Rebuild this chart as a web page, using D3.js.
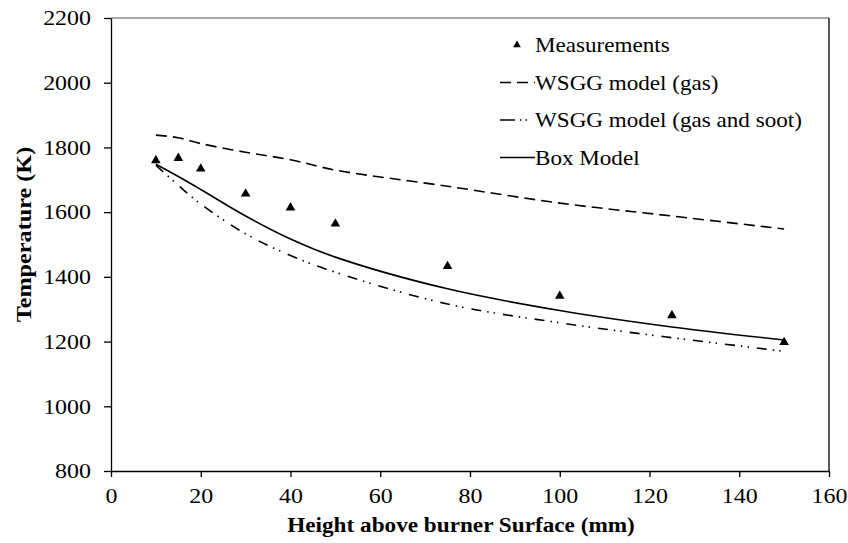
<!DOCTYPE html>
<html lang="en">
<head>
    <meta charset="UTF-8">
    <title>Temperature vs height above burner</title>
    <script src="https://d3js.org/d3.v7.min.js"></script>
    <style>
        body {
            margin: 0;
            background: #fff;
        }
        svg {
            display: block;
        }
        svg text {
            font-family: "Liberation Serif", "DejaVu Serif", serif;
            fill: #000;
        }
        .axis path, .axis line {
            stroke: #000;
            stroke-width: 1.3px;
        }
        .axis text {
            font-size: 21px;
        }
        .series {
            fill: none;
            stroke: #000;
            stroke-width: 1.6px;
        }
    </style>
</head>
<body>
    <svg id="chart" width="848" height="543"></svg>

    <script>
        // Data (height in mm, temperature in K)
        const heights = [10, 15, 20, 30, 40, 50, 75, 100, 125, 150];
        const measured = [1760, 1767, 1734, 1657, 1614, 1564, 1433, 1341, 1281, 1198];
        const wsggGas = [1838, 1830, 1812, 1785, 1762, 1730, 1680, 1628, 1588, 1548];
        const wsggSoot = [1745, 1683, 1625, 1533, 1466, 1414, 1316, 1258, 1212, 1170];
        const boxModel = [1748, 1710, 1670, 1588, 1517, 1461, 1363, 1296, 1245, 1205];

        const xTicks = [0, 20, 40, 60, 80, 100, 120, 140, 160];
        const yTicks = [800, 1000, 1200, 1400, 1600, 1800, 2000, 2200];

        const legendLabels = ["Measurements", "WSGG model (gas)", "WSGG model (gas and soot)", "Box Model"];

        const margin = {top: 18, right: 19, bottom: 72, left: 111};
        const width = 848 - margin.left - margin.right;
        const height = 543 - margin.top - margin.bottom;

        const svg = d3.select("#chart")
            .append("g")
            .attr("transform", `translate(${margin.left},${margin.top})`);

        const x = d3.scaleLinear().domain([0, 160]).range([0, width]);
        const y = d3.scaleLinear().domain([800, 2200]).range([height, 0]);

        // Plot frame (top and right)
        svg.append("line")
            .attr("x1", 0).attr("x2", width)
            .attr("y1", 0).attr("y2", 0)
            .attr("stroke", "#888").attr("stroke-width", 1.3);
        svg.append("line")
            .attr("x1", width).attr("x2", width)
            .attr("y1", 0).attr("y2", height)
            .attr("stroke", "#000").attr("stroke-width", 1.3);

        // Axes
        svg.append("g")
            .attr("class", "axis")
            .attr("transform", `translate(0,${height})`)
            .call(d3.axisBottom(x).tickValues(xTicks).tickFormat(d3.format("d"))
                .tickSize(6).tickPadding(11).tickSizeOuter(0))
            .attr("font-family", null);

        svg.append("g")
            .attr("class", "axis")
            .call(d3.axisLeft(y).tickValues(yTicks).tickFormat(d3.format("d"))
                .tickSize(7).tickPadding(13).tickSizeOuter(0))
            .attr("font-family", null);

        // Series lines
        const line = vals => d3.line()
            .x((d, i) => x(heights[i]))
            .y(d => y(d))
            .curve(d3.curveCatmullRom)(vals);

        svg.append("path")
            .attr("class", "series")
            .attr("d", line(wsggGas))
            .attr("stroke-dasharray", "11,6");

        svg.append("path")
            .attr("class", "series")
            .attr("d", line(wsggSoot))
            .attr("stroke-dasharray", "10,6,1.5,5,1.5,8");

        svg.append("path")
            .attr("class", "series")
            .attr("d", line(boxModel));

        const tri = d3.symbol().type(d3.symbolTriangle).size(40);

        svg.selectAll(".meas")
            .data(measured)
            .enter()
            .append("path")
            .attr("class", "meas")
            .attr("d", tri)
            .attr("transform", (d, i) => `translate(${x(heights[i])},${y(d)})`)
            .attr("fill", "#000");

        // Legend
        const legend = svg.append("g")
            .attr("transform", `translate(${535 - margin.left},${45 - margin.top})`);
        const rowGap = 37.5;

        legend.append("path")
            .attr("d", d3.symbol().type(d3.symbolTriangle).size(26)())
            .attr("transform", "translate(-18,0)")
            .attr("fill", "#000");

        legend.append("line")
            .attr("class", "series")
            .attr("x1", -35).attr("x2", 0)
            .attr("y1", rowGap).attr("y2", rowGap)
            .attr("stroke-dasharray", "11,6");

        legend.append("line")
            .attr("class", "series")
            .attr("x1", -35).attr("x2", 0)
            .attr("y1", rowGap * 2).attr("y2", rowGap * 2)
            .attr("stroke-dasharray", "15,5,1.5,4,1.5,10");

        legend.append("line")
            .attr("class", "series")
            .attr("x1", -35).attr("x2", 0)
            .attr("y1", rowGap * 3).attr("y2", rowGap * 3);

        legend.selectAll(".leg-text")
            .data(legendLabels)
            .enter()
            .append("text")
            .attr("class", "leg-text")
            .attr("x", 0)
            .attr("y", (d, i) => i * rowGap)
            .attr("dy", "0.35em")
            .attr("font-size", 21)
            .text(d => d);

        // Axis titles
        svg.append("text")
            .attr("class", "title")
            .attr("x", width / 2 - 9)
            .attr("y", height + 61)
            .attr("text-anchor", "middle")
            .attr("font-size", 20)
            .attr("font-weight", "bold")
            .text("Height above burner Surface (mm)");

        svg.append("text")
            .attr("class", "title-y")
            .attr("transform", `translate(${-80},${234.5 - margin.top}) rotate(-90)`)
            .attr("text-anchor", "middle")
            .attr("font-size", 20)
            .attr("font-weight", "bold")
            .text("Temperature (K)");

        // The original's lettering is a little wider than plain Times
        function stretchText(sel, k) {
            sel.each(function() {
                const w = this.getComputedTextLength();
                d3.select(this)
                    .attr("textLength", w * k)
                    .attr("lengthAdjust", "spacingAndGlyphs");
            });
        }
        stretchText(svg.selectAll(".axis text"), 1.14);
        stretchText(svg.selectAll(".leg-text"), 1.1);
        stretchText(svg.selectAll(".title"), 1.16);
        stretchText(svg.selectAll(".title-y"), 1.21);
    </script>
</body>
</html>
